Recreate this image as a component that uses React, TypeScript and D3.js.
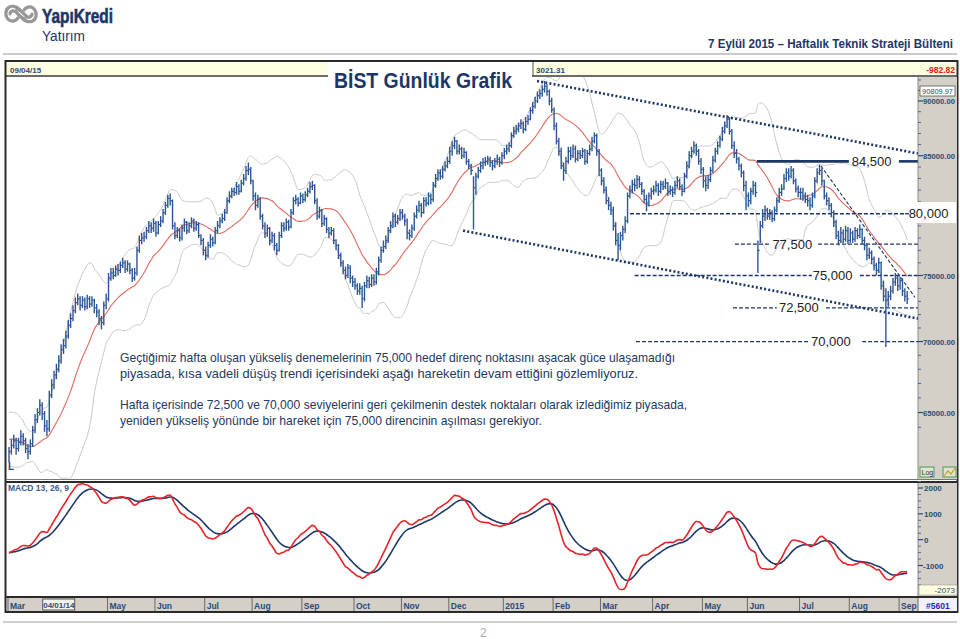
import React from "react";
import * as d3 from "d3";

// ---------- DATA (BIST-100 daily, values in thousands of index points) ----------
const monthLabels = ["Mar", "04/01/14", "May", "Jun", "Jul", "Aug", "Sep", "Oct", "Nov", "Dec", "2015", "Feb", "Mar", "Apr", "May", "Jun", "Jul", "Aug", "Sep"];
const monthBars = [21, 21, 20, 21, 20, 21, 22, 20, 20, 23, 21, 20, 22, 21, 19, 22, 21, 21, 4];

// closes before the visible window (Jan-Feb 2014), only feed the indicators
const warmupClose = [
  67.8, 67.0, 66.4, 66.9, 67.2, 66.5, 66.9, 66.6, 66.0, 66.3, 65.6, 65.0, 64.2, 63.3, 62.4, 61.4, 60.6, 61.2, 60.2, 61.5, 61.1,
  61.6, 62.6, 63.2, 63.8, 64.3, 64.6, 64.3, 64.8, 64.1, 63.6, 63.9, 63.3, 62.8, 63.2, 62.6, 62.1, 62.6, 62.2, 61.8, 62.0,
];

const close = [
  62.4, 62.8, 63.1, 62.6, 63.0, 63.4, 63.1, 62.6, 62.4, 62.9, 63.8, 64.5, 65.0, 65.5, 64.9, 64.1, 63.9, 66.2, 66.9, 67.6, 68.0,
  68.6, 69.4, 69.7, 70.4, 71.2, 71.7, 72.3, 72.9, 73.2, 72.7, 73.1, 72.6, 73.2, 72.8, 73.1, 72.5, 72.2, 71.7, 71.4, 72.7, 73.2,
  74.8, 75.2, 75.0, 75.5, 75.4, 75.8, 76.0, 75.5, 75.9, 75.4, 74.8, 75.2, 77.0, 77.8, 78.0, 78.1, 78.6, 79.0, 78.8, 79.2,
  78.4, 79.1, 79.4, 80.1, 80.7, 81.3, 81.1, 79.0, 78.2, 78.6, 78.0, 78.8, 79.3, 78.6, 79.0, 79.4, 78.8, 79.1, 78.2, 77.8, 77.0,
  76.6, 77.4, 77.9, 77.6, 78.6, 79.0, 79.4, 79.6, 80.1, 81.1, 81.5, 81.9, 81.8, 82.3, 81.9, 82.6, 83.0, 83.7, 83.8, 82.8,
  81.5, 80.7, 81.2, 79.8, 79.0, 78.4, 78.8, 77.8, 78.2, 77.4, 77.0, 78.2, 79.0, 78.8, 79.3, 78.9, 80.1, 81.1, 81.2, 80.9, 81.5,
  81.2, 81.6, 81.9, 82.3, 82.4, 81.1, 79.8, 80.3, 79.2, 79.6, 78.7, 78.4, 78.6, 77.8, 77.4, 76.6, 76.0, 75.4, 75.0, 75.6, 74.8, 74.5,
  74.2, 73.8, 74.0, 73.2, 74.2, 74.6, 74.3, 74.8, 74.5, 75.3, 76.2, 77.0, 77.3, 77.8, 78.6, 79.0, 79.8, 79.3, 79.6, 80.1,
  79.8, 79.4, 78.4, 78.2, 78.8, 79.8, 80.3, 80.7, 80.1, 81.1, 80.9, 81.5, 81.2, 82.4, 83.0, 83.5, 83.2, 83.8, 84.1, 84.5,
  85.4, 85.9, 86.3, 85.4, 85.6, 85.0, 85.3, 84.5, 84.1, 83.7, 82.2, 83.2, 83.7, 84.1, 84.4, 84.5, 84.7, 84.4, 84.1, 84.5, 84.7, 84.4, 85.0,
  85.4, 85.6, 85.9, 86.8, 87.2, 87.4, 87.7, 87.9, 87.4, 88.1, 88.3, 89.1, 89.5, 90.0, 90.5, 90.7, 91.1, 91.4, 90.9, 90.0, 89.2,
  87.7, 86.3, 85.4, 84.1, 83.7, 84.5, 85.4, 85.0, 85.6, 84.7, 85.2, 85.0, 85.4, 84.5, 85.2, 85.6, 86.3, 86.8, 85.4, 83.7,
  82.8, 82.0, 81.1, 80.7, 80.3, 79.0, 77.8, 77.4, 78.2, 78.7, 79.4, 81.5, 82.0, 82.5, 82.4, 82.9, 82.5, 81.9, 81.2, 80.9, 81.5, 81.9,
  82.0, 82.4, 81.9, 82.5, 82.3, 82.6, 81.9, 82.0, 81.8, 82.4, 82.8, 82.3, 81.9, 83.2, 84.1, 85.0, 85.4, 85.9, 85.4, 84.5, 83.8,
  82.8, 82.4, 82.9, 83.7, 84.6, 85.4, 85.9, 86.5, 87.2, 87.7, 88.3, 87.2, 85.9, 85.2, 84.7, 84.1, 83.5, 82.4, 81.5,
  81.1, 81.9, 82.4, 81.8, 77.0, 79.0, 79.8, 80.3, 79.8, 80.1, 79.6, 80.3, 81.1, 81.8, 82.1, 83.0, 83.5, 83.2, 83.7, 82.8, 82.1, 81.8,
  81.8, 81.5, 81.2, 81.1, 80.7, 81.5, 82.8, 83.5, 83.7, 82.8, 81.5, 81.1, 80.7, 80.1, 79.3, 78.2, 77.8, 78.4, 77.9, 78.6, 77.8,
  78.4, 77.9, 78.6, 78.2, 78.7, 77.8, 77.4, 76.6, 76.8, 76.3, 75.8, 75.4, 76.0, 74.2, 73.4, 73.1, 73.4, 73.8, 74.5, 74.8, 74.2,
  74.6, 73.8, 73.4, 73.2,
];

const high = [
  62.7, 63.2, 63.5, 63.3, 63.3, 63.8, 63.6, 63.3, 62.9, 63.2, 64.1, 64.9, 65.3, 65.9, 65.7, 65.1, 64.5, 66.5, 67.3, 67.9, 68.4,
  69.0, 69.8, 70.2, 70.8, 71.6, 72.1, 72.7, 73.3, 73.6, 73.4, 73.4, 73.3, 73.5, 73.4, 73.4, 73.2, 72.8, 72.4, 71.9, 73.0, 73.6,
  75.2, 75.6, 75.6, 75.8, 75.9, 76.1, 76.4, 76.2, 76.2, 76.0, 75.6, 75.6, 77.3, 78.2, 78.4, 78.5, 78.9, 79.4, 79.3, 79.6,
  79.4, 79.4, 79.8, 80.4, 81.0, 81.6, 81.7, 81.2, 79.3, 78.9, 78.8, 79.1, 79.6, 79.4, 79.3, 79.7, 79.6, 79.4, 79.3, 78.3, 78.0,
  77.3, 77.7, 78.3, 78.1, 78.9, 79.4, 79.7, 80.0, 80.4, 81.4, 81.9, 82.2, 82.2, 82.7, 82.5, 82.9, 83.4, 84.1, 84.4, 84.0,
  82.9, 81.8, 81.6, 81.4, 80.0, 79.3, 79.1, 78.9, 78.5, 78.4, 77.6, 78.5, 79.3, 79.3, 79.6, 79.5, 80.4, 81.4, 81.6, 81.4, 81.8,
  81.7, 81.9, 82.2, 82.7, 82.8, 82.5, 81.3, 80.6, 80.4, 79.9, 79.7, 78.9, 78.9, 78.8, 77.9, 77.5, 76.8, 76.2, 75.7, 75.9, 75.8, 75.0,
  74.8, 74.4, 74.4, 74.2, 74.5, 75.0, 74.9, 75.1, 75.1, 75.6, 76.5, 77.3, 77.8, 78.2, 78.9, 79.4, 80.1, 80.0, 79.9, 80.4,
  80.4, 80.0, 79.6, 78.7, 79.1, 80.1, 80.7, 81.1, 80.9, 81.4, 81.4, 81.8, 81.7, 82.7, 83.4, 83.8, 83.8, 84.1, 84.5, 84.9,
  85.8, 86.3, 86.7, 86.4, 86.0, 85.8, 85.7, 85.4, 84.7, 84.3, 83.2, 83.5, 84.0, 84.5, 84.8, 84.9, 85.0, 84.9, 84.6, 84.8, 85.1, 84.9, 85.3,
  85.7, 86.0, 86.2, 87.1, 87.6, 87.8, 88.0, 88.3, 88.1, 88.5, 88.7, 89.4, 89.9, 90.4, 90.9, 91.1, 91.5, 91.9, 91.6, 91.1, 90.3,
  89.4, 88.0, 86.6, 85.7, 84.4, 84.9, 85.8, 85.8, 86.0, 85.9, 85.5, 85.5, 85.7, 85.6, 85.5, 86.0, 86.7, 87.1, 87.0, 85.6,
  83.9, 83.1, 82.3, 81.4, 81.0, 80.6, 79.3, 78.4, 78.5, 79.0, 79.8, 81.8, 82.4, 82.9, 83.0, 83.3, 83.2, 82.7, 82.1, 81.6, 81.8, 82.2,
  82.4, 82.8, 82.6, 82.8, 82.8, 83.0, 82.7, 82.4, 82.3, 82.8, 83.2, 83.0, 82.5, 83.5, 84.5, 85.4, 85.8, 86.3, 86.1, 85.6, 84.8,
  84.0, 83.2, 83.3, 84.0, 85.0, 85.7, 86.3, 86.8, 87.6, 88.1, 88.7, 88.5, 87.4, 86.3, 85.6, 84.9, 84.3, 83.7, 82.8,
  81.8, 82.2, 82.8, 82.7, 77.8, 79.4, 80.4, 80.7, 80.5, 80.4, 80.3, 80.6, 81.4, 82.2, 82.5, 83.4, 83.9, 83.9, 84.1, 83.9, 83.0, 82.4,
  82.2, 82.2, 81.8, 81.6, 81.4, 81.8, 83.1, 83.9, 84.2, 83.9, 82.9, 81.8, 81.4, 80.9, 80.3, 79.5, 78.6, 78.9, 78.7, 79.0, 78.9,
  78.8, 78.6, 78.9, 78.8, 79.1, 78.8, 78.1, 77.6, 77.2, 77.0, 76.5, 76.0, 76.4, 76.1, 74.6, 74.0, 73.8, 74.2, 74.8, 75.2, 75.0,
  74.9, 74.8, 74.0, 73.8,
];

const low = [
  61.7, 62.2, 62.6, 62.2, 62.4, 62.8, 62.8, 62.3, 61.9, 62.2, 62.7, 63.6, 64.3, 64.8, 64.5, 63.7, 63.4, 63.7, 66.0, 66.6, 67.3,
  67.8, 68.4, 69.1, 69.5, 70.2, 71.0, 71.5, 72.1, 72.7, 72.3, 72.5, 72.3, 72.4, 72.5, 72.6, 72.1, 71.8, 71.2, 70.9, 71.2, 72.4,
  73.0, 74.6, 74.7, 74.9, 75.0, 75.2, 75.6, 75.2, 75.3, 75.1, 74.5, 74.6, 75.0, 76.8, 77.5, 77.7, 77.9, 78.4, 78.4, 78.5,
  78.1, 78.3, 78.9, 79.2, 79.9, 80.5, 80.7, 78.7, 77.9, 78.0, 77.7, 77.8, 78.5, 78.3, 78.4, 78.8, 78.5, 78.6, 78.0, 77.4, 76.6,
  76.2, 76.4, 77.2, 77.3, 77.5, 78.4, 78.8, 79.2, 79.4, 80.0, 80.9, 81.3, 81.5, 81.6, 81.6, 81.8, 82.4, 82.8, 83.3, 82.5,
  81.1, 80.3, 80.5, 79.5, 78.7, 78.0, 78.1, 77.4, 77.6, 77.0, 76.6, 76.9, 78.0, 78.5, 78.6, 78.6, 78.8, 79.9, 80.8, 80.6, 80.8,
  80.9, 81.0, 81.4, 81.7, 82.0, 80.8, 79.5, 79.6, 78.9, 79.0, 78.4, 78.0, 78.2, 77.5, 77.0, 76.3, 75.7, 75.1, 74.7, 74.8, 74.4, 74.1,
  73.9, 73.5, 73.5, 72.5, 73.0, 74.0, 74.0, 74.1, 74.2, 74.3, 75.0, 76.0, 76.8, 77.1, 77.6, 78.4, 78.8, 78.9, 79.1, 79.4,
  79.5, 79.0, 77.9, 77.8, 78.0, 78.6, 79.6, 80.1, 79.7, 80.0, 80.6, 80.7, 80.8, 81.0, 82.2, 82.8, 82.9, 83.0, 83.6, 83.9,
  84.3, 85.0, 85.6, 85.1, 85.1, 84.7, 84.8, 84.2, 83.8, 83.3, 78.7, 81.6, 83.0, 83.5, 83.8, 84.1, 84.2, 84.0, 83.7, 83.9, 84.2, 84.0, 84.2,
  84.7, 85.1, 85.3, 85.7, 86.6, 86.9, 87.1, 87.4, 87.0, 87.2, 87.8, 88.2, 88.8, 89.3, 89.8, 90.2, 90.4, 90.8, 90.5, 89.6, 88.9,
  87.3, 86.0, 85.0, 83.8, 82.8, 83.4, 84.3, 84.6, 84.8, 84.4, 84.5, 84.7, 84.8, 84.2, 84.3, 85.0, 85.4, 86.1, 85.0, 83.2,
  82.4, 81.7, 80.8, 80.3, 79.9, 78.6, 77.4, 76.2, 77.0, 77.8, 78.4, 79.2, 81.3, 81.7, 81.9, 82.1, 82.2, 81.6, 80.9, 80.2, 80.6, 81.2,
  81.6, 81.8, 81.5, 81.7, 82.0, 82.1, 81.5, 81.6, 81.4, 81.6, 82.2, 82.0, 81.5, 81.8, 83.0, 83.9, 84.8, 85.2, 85.0, 84.2, 83.4,
  82.2, 81.9, 82.1, 82.7, 83.5, 84.4, 85.1, 85.7, 86.3, 87.0, 87.5, 86.9, 85.6, 84.8, 84.3, 83.7, 83.1, 81.9, 80.3,
  80.6, 80.8, 81.6, 81.4, 75.2, 77.6, 78.8, 79.4, 79.5, 79.5, 79.3, 79.4, 80.1, 80.9, 81.5, 82.0, 82.7, 82.8, 83.0, 82.5, 81.8, 81.4,
  81.2, 81.1, 80.9, 80.6, 80.3, 80.5, 81.3, 82.6, 83.3, 82.4, 81.2, 80.7, 80.3, 79.7, 78.9, 77.9, 77.4, 77.6, 77.6, 77.7, 77.5,
  77.6, 77.6, 77.7, 77.9, 78.0, 77.5, 77.0, 76.2, 76.3, 75.9, 75.4, 75.0, 75.2, 73.9, 73.0, 69.6, 72.6, 73.1, 73.6, 74.2, 73.8,
  73.9, 73.4, 73.0, 72.8,
];

// support / resistance levels (index points)
const levelValues = [84500, 80000, 77500, 75000, 72500, 70000];
const levelLabels = ["84,500", "80,000", "77,500", "75,000", "72,500", "70,000"];

// trend lines: [start bar, start price, end bar, end price] (thousands)
const trendLines = [
  [222.8, 91.9, 383.5, 85.2],
  [191.6, 78.6, 383.5, 71.7],
  [342.6, 84.1, 382.3, 73.3],
];

const priceTicks = [65000, 70000, 75000, 80000, 85000, 90000];
const macdTicks = [2000, 1000, 0, -1000];

const noteLines = [
  "Geçtiğimiz hafta oluşan yükseliş denemelerinin 75,000 hedef direnç noktasını aşacak güce ulaşamadığı",
  "piyasada, kısa vadeli düşüş trendi içerisindeki aşağı hareketin devam ettiğini gözlemliyoruz.",
  "Hafta içerisinde 72,500 ve 70,000 seviyelerini geri çekilmenin destek noktaları olarak izlediğimiz piyasada,",
  "yeniden yükseliş yönünde bir hareket için 75,000 direncinin aşılması gerekiyor.",
];

// ---------- LAYOUT ----------
const W = 960, H = 639;
const PL = 7, PR = 918;          // plot left/right
const PT = 77, PB = 480;         // price panel
const MT = 483, MB = 596;        // macd panel
const NAVY = "#1c3666";
const BAR = "#2d5592";
const FONT = "'Liberation Sans', Arial, sans-serif";
const NARROW = "'Liberation Sans Narrow', 'Liberation Sans', Arial, sans-serif";

// level line segments (bar-index ranges) and label centers
const levelLayout = [
  { segs: [[315.6, 354.4], [375.5, 383.5]], lab: 364, solid: true },
  { segs: [[262, 379]], lab: 388, box: true },
  { segs: [[306.3, 321], [341.4, 383.5]], lab: 330.5 },
  { segs: [[264, 338.8], [359, 383.5]], lab: 347.5 },
  { segs: [[305.5, 324], [344.7, 383.5]], lab: 333.3 },
  { segs: [[264.6, 338], [360, 383.5]], lab: 346.8 },
];

function ema(arr: number[], p: number) {
  const a = 2 / (p + 1);
  const out: number[] = [];
  let e = arr[0];
  arr.forEach((v, i) => {
    e = i === 0 ? v : a * v + (1 - a) * e;
    out.push(e);
  });
  return out;
}

export default function App() {
  const all = warmupClose.concat(close);
  const off = warmupClose.length;
  const N = close.length;

  const x = d3.scaleLinear().domain([0, N - 1]).range([9, 907.2]);
  const y = d3.scaleLog().domain([65000, 90000]).range([412.5, 101]);
  const ym = d3.scaleLinear().domain([-1000, 2000]).range([565.5, 488]);

  // Bollinger (20, 2) and SMA20
  const ma: number[] = [], up: number[] = [], dn: number[] = [];
  for (let i = off; i < all.length; i++) {
    const w = all.slice(i - 19, i + 1);
    const m = d3.mean(w) as number;
    const sd = Math.sqrt(d3.mean(w.map((v) => (v - m) ** 2)) as number);
    ma.push(m * 1000); up.push((m + 2 * sd) * 1000); dn.push((m - 2 * sd) * 1000);
  }
  // MACD 13,26,9
  const e13 = ema(all, 13), e26 = ema(all, 26);
  const macdAll = all.map((_, i) => (e13[i] - e26[i]) * 1000);
  const sigAll = ema(macdAll, 9);
  const macd = macdAll.slice(off), sig = sigAll.slice(off);

  const line = (vals: number[], ys: (v: number) => number) =>
    d3.line<number>().x((_, i) => x(i)).y((v) => ys(v)).curve(d3.curveMonotoneX)(vals) as string;

  const starts: number[] = [];
  monthBars.reduce((acc, n) => { starts.push(acc); return acc + n; }, 0);

  const minor: number[] = d3.range(64000, 92001, 1000).filter((v) => v % 5000 !== 0);
  const macdMinor: number[] = d3.range(-2000, 2251, 250).filter((v) => v % 1000 !== 0);

  return (
    <svg width={W} height={H} style={{ position: "absolute", left: 0, top: 0, background: "#fff" }} fontFamily={FONT}>
      <defs>
        <clipPath id="pclip"><rect x={PL} y={PT} width={PR - PL} height={PB - PT} /></clipPath>
        <clipPath id="mclip"><rect x={PL} y={MT} width={PR - PL} height={MB - MT} /></clipPath>
      </defs>

      {/* page header */}
      <g>
        <g fill="none" stroke="#979797" strokeWidth={3.2} strokeLinecap="round">
          <path d="M20,10 C17,6 11,5 8,8 C5,11 5,17 9,20 C12,22 16,21 18,18" />
          <path d="M10,14 C10,11 14,10 16,12 C19,15 21,18 25,19" />
          <path d="M22,18 C25,22 31,23 34,20 C37,17 37,11 33,8 C30,6 26,7 24,10" />
          <path d="M32,14 C32,17 28,18 26,16 C23,13 21,10 17,9" />
        </g>
        <text x={42} y={23} fontFamily={NARROW} fontSize={21} fontWeight={900} fill={NAVY} textLength={71} lengthAdjust="spacingAndGlyphs" stroke={NAVY} strokeWidth={0.6}>YapıKredi</text>
        <text x={42} y={41} fontSize={14} fill={NAVY} textLength={43} lengthAdjust="spacingAndGlyphs">Yatırım</text>
        <text x={953} y={48} textAnchor="end" fontFamily={NARROW} fontSize={12} fontWeight="bold" fill={NAVY} textLength={245} lengthAdjust="spacingAndGlyphs">7 Eylül 2015 – Haftalık Teknik Strateji Bülteni</text>
        <line x1={3} x2={957} y1={54} y2={54} stroke="#c9c9c9" strokeWidth={2} />
      </g>

      {/* chart frame */}
      <rect x={5.5} y={61} width={952} height={551} fill="#fff" stroke="#2a2a2a" strokeWidth={2} />
      {/* header bar */}
      <rect x={7} y={62.5} width={949} height={13} fill="#fdfddf" />
      <line x1={6} x2={957} y1={76} y2={76} stroke="#3a3a3a" strokeWidth={1.6} />
      <text x={10} y={72.5} fontSize={8} fontWeight="bold" fill="#2b4a7a">09/04/15</text>
      <line x1={533} x2={533} y1={62} y2={76} stroke="#555" strokeWidth={1} />
      <text x={536} y={72.5} fontSize={8} fontWeight="bold" fill="#2b4a7a">3021.31</text>
      <text x={955} y={72.5} fontSize={8.5} fontWeight="bold" fill="#e02020" textAnchor="end">-982.82</text>

      {/* right axis backgrounds */}
      <rect x={PR} y={77} width={39} height={PB - 77} fill="#d4d0c8" />
      <rect x={PR} y={MT} width={39} height={MB - MT} fill="#d4d0c8" />
      <line x1={PR} x2={PR} y1={77} y2={PB} stroke="#8a8a8a" strokeWidth={1} />
      <line x1={PR} x2={PR} y1={MT} y2={MB} stroke="#8a8a8a" strokeWidth={1} />

      {/* price axis */}
      {minor.map((v) => (
        <line key={"m" + v} x1={PR} x2={PR + 3} y1={y(v)} y2={y(v)} stroke="#4a6a9a" strokeWidth={1} />
      ))}
      {priceTicks.map((v) => (
        <g key={v}>
          <line x1={PR} x2={PR + 5} y1={y(v)} y2={y(v)} stroke="#2b4a7a" strokeWidth={1.2} />
          {v !== 80000 && (
            <text x={PR + 5} y={y(v) + 3} fontSize={8} fontWeight="bold" fill="#2b4a7a" textLength={32} lengthAdjust="spacingAndGlyphs">{v.toFixed(2)}</text>
          )}
        </g>
      ))}
      <rect x={920} y={86} width={35} height={10} fill="#fff" stroke="#555" strokeWidth={0.8} />
      <text x={922} y={94} fontSize={8} fill="#2b4a7a" textLength={31} lengthAdjust="spacingAndGlyphs">90809.97</text>

      {/* Log buttons */}
      <rect x={920} y={467} width={14} height={10} fill="#dde6d6" stroke="#4c9a4c" strokeWidth={1} />
      <text x={921.5} y={475} fontSize={7} fill="#333">Log</text>
      <rect x={943} y={467} width={13} height={10} fill="#dde6d6" stroke="#4c9a4c" strokeWidth={1} />
      <path d="M944,476 L948,471 L951,474 L955,468" stroke="#c8a020" strokeWidth={1.2} fill="none" />

      {/* price panel */}
      <g clipPath="url(#pclip)">
        <path d={line(up, y)} fill="none" stroke="#c9c9c9" strokeWidth={1} />
        <path d={line(dn, y)} fill="none" stroke="#c9c9c9" strokeWidth={1} />
        <path d={line(ma, y)} fill="none" stroke="#e06a5e" strokeWidth={1.1} />

        {/* level lines */}
        {levelValues.map((v, k) => {
          const L = levelLayout[k];
          return (
            <g key={v}>
              {L.segs.map((s, j) => (
                <line key={j} x1={x(s[0])} x2={x(s[1])} y1={y(v)} y2={y(v)} stroke={NAVY}
                  strokeWidth={L.solid ? 2.6 : 1.3} strokeDasharray={L.solid ? undefined : "4 2"} />
              ))}
              {!L.box && (
                <text x={x(L.lab)} y={y(v) + 4.5} fontSize={13} fill="#222" textAnchor="middle">{levelLabels[k]}</text>
              )}
            </g>
          );
        })}

        {/* trend lines */}
        {trendLines.map((t, k) => (
          <line key={k} x1={x(t[0])} y1={y(t[1] * 1000)} x2={x(t[2])} y2={y(t[3] * 1000)} stroke={NAVY}
            strokeWidth={k < 2 ? 2.6 : 1.1} strokeDasharray={k < 2 ? "2 2.2" : "3.5 2"} />
        ))}

        {/* OHLC bars */}
        {close.map((c, i) => (
          <g key={i} stroke={BAR}>
            <line x1={x(i)} x2={x(i)} y1={y(high[i] * 1000)} y2={y(low[i] * 1000)} strokeWidth={1.4} />
            <line x1={x(i)} x2={x(i) + 1.8} y1={y(c * 1000)} y2={y(c * 1000)} strokeWidth={1.2} />
          </g>
        ))}

        <text x={8} y={470} fontSize={10} fontWeight="bold" fill="#2b4a7a">L</text>
      </g>

      {/* 80,000 boxed label over the axis */}
      <rect x={905} y={202} width={51} height={21} fill="#fff" />
      <line x1={905} x2={909} y1={y(80000)} y2={y(80000)} stroke={NAVY} strokeWidth={1.3} />
      <text x={x(levelLayout[1].lab)} y={y(80000) + 4.5} fontSize={13} fill="#222" textAnchor="middle">{levelLabels[1]}</text>

      {/* title */}
      <rect x={328} y={62.5} width={204} height={31} fill="#fff" />
      <text x={334} y={88} fontSize={22} fontWeight="bold" fill={NAVY} textLength={178} lengthAdjust="spacingAndGlyphs">BİST Günlük Grafik</text>

      {/* commentary */}
      {noteLines.map((t, k) => (
        <text key={k} x={120} y={[362, 378, 409, 425][k]} fontSize={12.4} fill="#24395e"
          textLength={[555, 518, 567, 422][k]} lengthAdjust="spacingAndGlyphs">{t}</text>
      ))}

      {/* panel separator */}
      <line x1={6} x2={957} y1={479.5} y2={479.5} stroke="#777" strokeWidth={1} />
      <line x1={6} x2={957} y1={482} y2={482} stroke="#2a2a2a" strokeWidth={2} />

      {/* MACD axis */}
      {macdMinor.map((v) => (
        <line key={"mm" + v} x1={PR} x2={PR + 3} y1={ym(v)} y2={ym(v)} stroke="#4a6a9a" strokeWidth={1} />
      ))}
      {macdTicks.map((v) => (
        <g key={v}>
          <line x1={PR} x2={PR + 5} y1={ym(v)} y2={ym(v)} stroke="#2b4a7a" strokeWidth={1.2} />
          <text x={PR + (v < 0 ? 5 : 6)} y={ym(v) + 3} fontSize={8} fontWeight="bold" fill="#2b4a7a">{v < 0 ? "-" + Math.abs(v) : String(v)}</text>
        </g>
      ))}
      <rect x={PR + 1} y={585} width={38} height={10} fill="#fdfddf" stroke="#999" strokeWidth={0.6} />
      <text x={955} y={593} fontSize={8} fill="#2b4a7a" textAnchor="end">-2073</text>

      {/* MACD panel */}
      <g clipPath="url(#mclip)">
        <path d={line(sig, ym)} fill="none" stroke="#1d3a68" strokeWidth={1.6} />
        <path d={line(macd, ym)} fill="none" stroke="#e8222a" strokeWidth={1.6} />
      </g>
      <text x={8} y={491} fontSize={8.5} fontWeight="bold" fill="#3c5c8c">MACD 13, 26, 9</text>

      {/* bottom date axis */}
      <line x1={6} x2={957} y1={597} y2={597} stroke="#2a2a2a" strokeWidth={2} />
      <rect x={7} y={598} width={PR - 7} height={13} fill="#d4d0c8" />
      <rect x={PR} y={598} width={39} height={13} fill="#f1f1fb" />
      <line x1={PR} x2={PR} y1={598} y2={611} stroke="#666" />
      {monthLabels.map((m, k) => {
        const sx = x(starts[k]);
        if (m.includes("/")) {
          return (
            <g key={k}>
              <rect x={sx - 16} y={599} width={32} height={11} fill="#f4f2ec" stroke="#333" strokeWidth={0.8} />
              <text x={sx} y={608} fontSize={8} fontWeight="bold" fill="#2b4a7a" textAnchor="middle">{m}</text>
            </g>
          );
        }
        return (
          <g key={k}>
            <line x1={sx - 1} x2={sx - 1} y1={598} y2={611} stroke="#6a6a6a" strokeWidth={1} />
            <text x={sx + 1} y={608.5} fontSize={8.5} fontWeight="bold" fill="#2b4a7a">{m}</text>
          </g>
        );
      })}
      <text x={926} y={608.5} fontSize={8.5} fontWeight="bold" fill="#2626c8">#5601</text>

      {/* page footer */}
      <line x1={3} x2={957} y1={622} y2={622} stroke="#cfcfcf" strokeWidth={2} />
      <text x={480} y={637} fontSize={12} fill="#aaa">2</text>
    </svg>
  );
}
